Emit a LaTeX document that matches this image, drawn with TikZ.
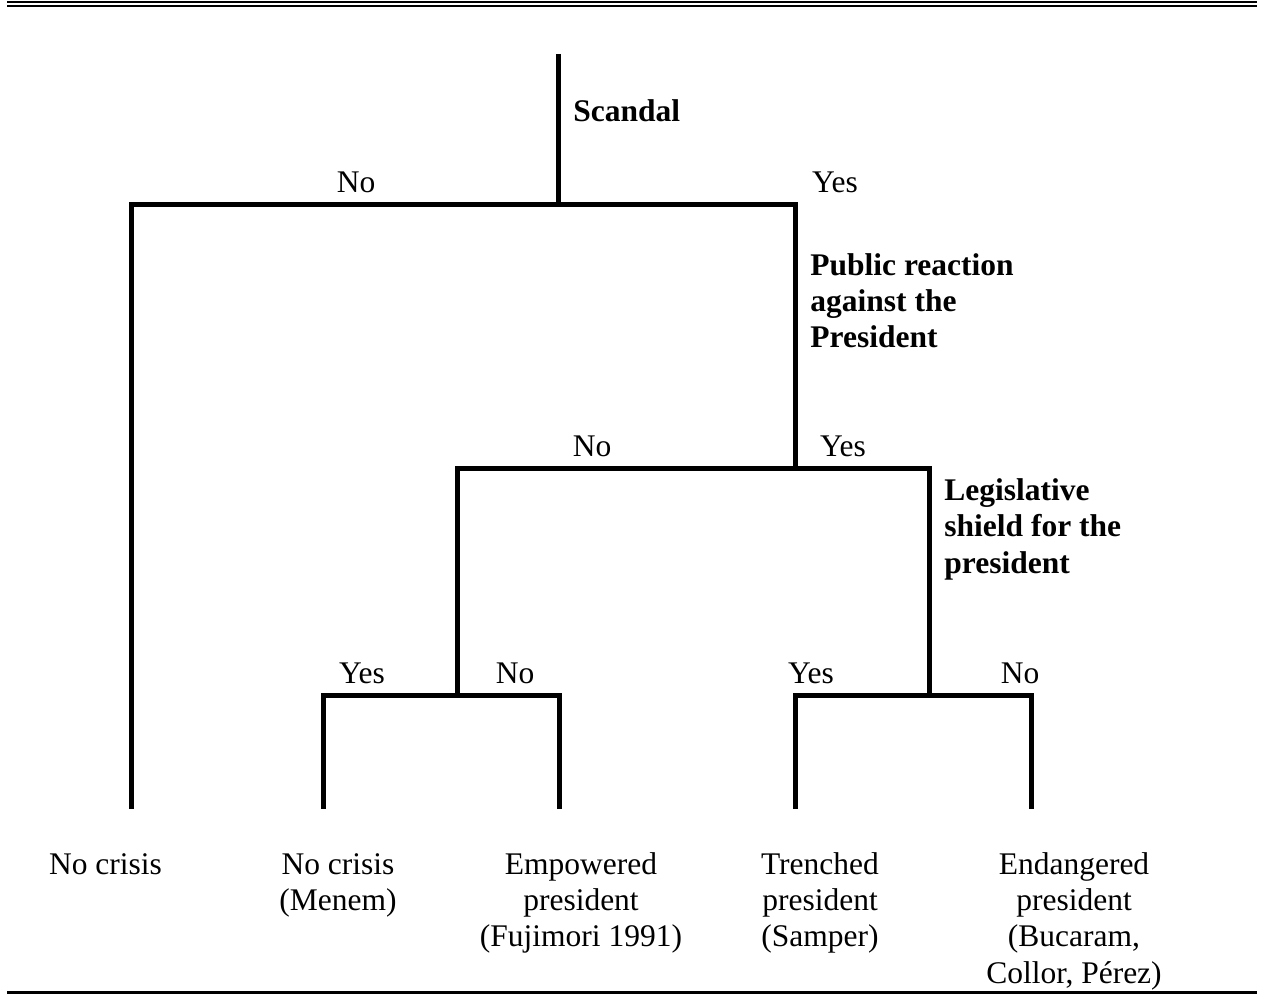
\documentclass[tikz,border=0pt]{standalone}
\usepackage{fontspec}
\setmainfont{Liberation Serif}
\tikzset{
  tree/.style={line width=2.5pt, line join=miter},
  lab/.style={inner sep=0pt, anchor=base, font=\fontsize{15.75}{18.2}\selectfont},
  ask/.style={lab, anchor=base west, align=left, font=\fontsize{15.75}{18.2}\selectfont\bfseries},
  leaf/.style={lab, align=center},
}
\begin{document}
\begin{tikzpicture}[x=0.5pt, y=-0.5pt]
\useasboundingbox (0,0) rectangle (1262,994);
% rules above and below
\draw[line width=1pt] (7,2) -- (1257,2);
\draw[line width=1pt] (7,6) -- (1257,6);
\draw[line width=1.5pt] (7,992.5) -- (1257,992.5);
% branch points and ends
\coordinate (tid0) at (558,54);
\coordinate (tid1) at (558,205);
\coordinate (tid2) at (131,809);
\coordinate (tid3) at (795,468);
\coordinate (tid4) at (457.5,695.5);
\coordinate (tid5) at (929,695.5);
\coordinate (tid6) at (323,809);
\coordinate (tid7) at (559,809);
\coordinate (tid8) at (795,809);
\coordinate (tid9) at (1031,809);
\draw[tree](tid0) -- (tid1);
\draw[tree](tid1) -| (tid2);
\draw[tree](tid1) -| (tid3);
\draw[tree](tid3) -| (tid4);
\draw[tree](tid3) -| (tid5);
\draw[tree](tid4) -| (tid6);
\draw[tree](tid4) -| (tid7);
\draw[tree](tid5) -| (tid8);
\draw[tree](tid5) -| (tid9);
% questions (placed at the baseline of the last line)
\node[ask] (qid0) at (573,122) {Scandal};
\node[ask] (qid1) at (810,348) {Public reaction\\against the\\President};
\node[ask] (qid2) at (944,573) {Legislative\\shield for the\\president};
% answers
\node[lab] (aid0) at (356,193) {No};
\node[lab] (aid1) at (835,193) {Yes};
\node[lab] (aid2) at (592,456) {No};
\node[lab] (aid3) at (843,456) {Yes};
\node[lab] (aid4) at (362,683) {Yes};
\node[lab] (aid5) at (515,683) {No};
\node[lab] (aid6) at (811,683) {Yes};
\node[lab] (aid7) at (1020,683) {No};
% outcomes
\node[leaf] (lid0) at (105.5,874) {No crisis};
\node[leaf] (lid1) at (338,910.4) {No crisis\\(Menem)};
\node[leaf] (lid2) at (581,946.8) {Empowered\\president\\(Fujimori 1991)};
\node[leaf] (lid3) at (820,946.8) {Trenched\\president\\(Samper)};
\node[leaf] (lid4) at (1074,983.2) {Endangered\\president\\(Bucaram,\\Collor, Pérez)};
\end{tikzpicture}
\end{document}
